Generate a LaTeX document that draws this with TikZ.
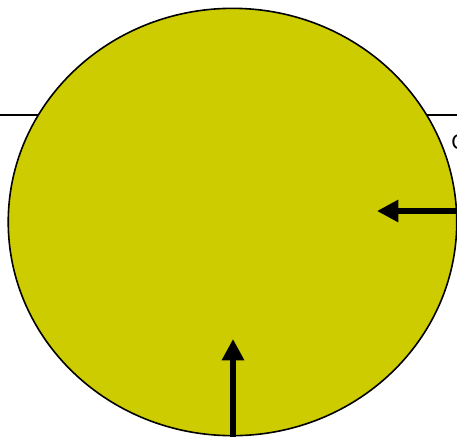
\documentclass[tikz,border=0pt]{standalone}
\usepackage{fontspec}
\setmainfont{Liberation Sans}
\usetikzlibrary{arrows.meta,shapes.geometric}
\definecolor{olive}{RGB}{204,204,0}
\tikzset{
  bigarrow/.style={line width=3.8pt,-{Triangle[length=16pt,width=16pt]}},
  thinline/.style={line width=1.2pt},
  blob/.style={ellipse,draw,line width=1.2pt,fill=olive,inner sep=0,
    minimum width=336.4pt,minimum height=320.5pt}
}
\begin{document}
\begin{tikzpicture}[x=0.75pt,y=-0.75pt]
\useasboundingbox (0,0) rectangle (457,436);
\coordinate (ll) at (0,115);
\coordinate (lr) at (60,115);
\coordinate (rl) at (400,115);
\coordinate (rr) at (457,115);
\draw[thinline] (ll) -- (lr);
\draw[thinline] (rl) -- (rr);
\node[blob] (circ) at (232.5,222) {};
\node[font=\fontsize{16}{18}\selectfont,anchor=west,inner sep=0] (c) at (451,142) {C};
\coordinate (rs) at (460,211);
\coordinate (rt) at (377,211);
\coordinate (bs) at (233,440);
\coordinate (bt) at (233,339);
\draw[bigarrow] (rs) -- (rt);
\draw[bigarrow] (bs) -- (bt);
\end{tikzpicture}
\end{document}
